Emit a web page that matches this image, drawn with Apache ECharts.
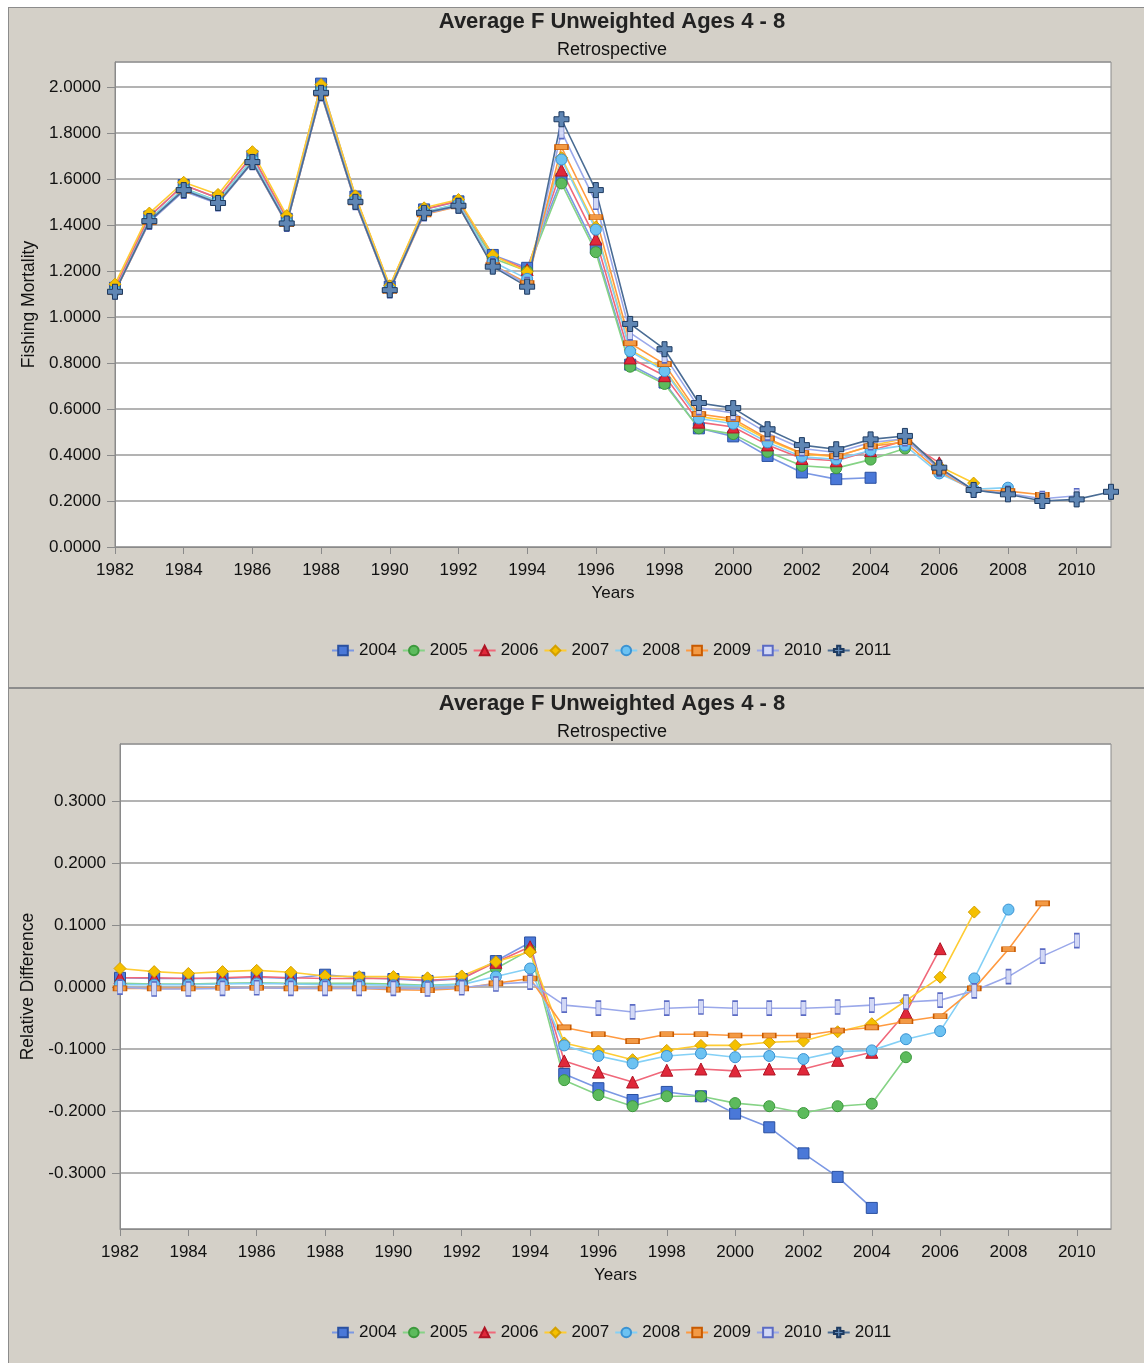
<!DOCTYPE html>
<html>
<head>
<meta charset="utf-8">
<script src="https://cdn.jsdelivr.net/npm/echarts@6/dist/echarts.min.js"></script>
<style>
html,body{margin:0;padding:0;background:#ffffff;}
#wrap{position:absolute;left:8px;top:7px;width:1136px;height:1356px;border-left:1px solid #8c8c8c;border-top:1px solid #8c8c8c;background:#d4d0c8;}
#chart{position:absolute;left:0;top:0;width:1136px;height:1356px;}
</style>
</head>
<body>
<div id="wrap"><div id="chart"></div></div>
<script>
// ---------- DATA ----------
const years = [1982,1983,1984,1985,1986,1987,1988,1989,1990,1991,1992,1993,1994,1995,1996,1997,1998,1999,2000,2001,2002,2003,2004,2005,2006,2007,2008,2009,2010,2011];
const seriesNames = ['2004','2005','2006','2007','2008','2009','2010','2011'];
const xTicks = [1982,1984,1986,1988,1990,1992,1994,1996,1998,2000,2002,2004,2006,2008,2010];

// Fishing mortality (top chart), each retrospective run starts in 1982
const f2004 = [1.127,1.437,1.574,1.517,1.701,1.427,2.015,1.524,1.132,1.468,1.503,1.270,1.214,1.600,1.299,0.793,0.715,0.516,0.481,0.396,0.324,0.295,0.301];
const f2005 = [1.117,1.424,1.560,1.505,1.686,1.415,1.987,1.510,1.123,1.457,1.491,1.256,1.200,1.581,1.282,0.784,0.709,0.516,0.491,0.414,0.353,0.343,0.380,0.428];
const f2006 = [1.127,1.438,1.574,1.518,1.702,1.428,2.003,1.522,1.133,1.469,1.505,1.268,1.206,1.639,1.339,0.822,0.745,0.543,0.522,0.444,0.385,0.375,0.419,0.463,0.366];
const f2007 = [1.143,1.452,1.586,1.533,1.719,1.441,2.011,1.527,1.136,1.475,1.511,1.269,1.197,1.693,1.392,0.857,0.772,0.567,0.547,0.466,0.404,0.394,0.440,0.472,0.351,0.278];
const f2008 = [1.114,1.423,1.558,1.503,1.684,1.414,1.983,1.507,1.120,1.456,1.490,1.240,1.166,1.685,1.380,0.851,0.765,0.559,0.536,0.455,0.392,0.381,0.420,0.442,0.320,0.251,0.258];
const f2009 = [1.108,1.414,1.549,1.495,1.672,1.404,1.971,1.498,1.113,1.446,1.481,1.226,1.148,1.739,1.434,0.886,0.795,0.578,0.557,0.472,0.408,0.395,0.438,0.456,0.329,0.247,0.243,0.227];
const f2010 = [1.110,1.413,1.547,1.493,1.672,1.404,1.971,1.498,1.115,1.449,1.483,1.225,1.141,1.806,1.499,0.931,0.831,0.606,0.583,0.495,0.428,0.411,0.454,0.471,0.338,0.247,0.233,0.210,0.223];
const f2011 = [1.110,1.417,1.552,1.496,1.674,1.407,1.975,1.501,1.117,1.453,1.484,1.219,1.132,1.860,1.552,0.970,0.860,0.626,0.604,0.512,0.443,0.425,0.468,0.483,0.345,0.248,0.229,0.200,0.207,0.240];

// Relative difference (bottom chart)
const rd2004 = [0.015,0.014,0.014,0.014,0.016,0.014,0.020,0.015,0.013,0.010,0.013,0.042,0.072,-0.140,-0.163,-0.182,-0.169,-0.176,-0.204,-0.226,-0.268,-0.306,-0.356];
const rd2005 = [0.006,0.005,0.005,0.006,0.007,0.006,0.006,0.006,0.005,0.003,0.005,0.030,0.060,-0.150,-0.174,-0.192,-0.176,-0.176,-0.187,-0.192,-0.203,-0.192,-0.188,-0.113];
const rd2006 = [0.015,0.015,0.014,0.015,0.017,0.015,0.014,0.014,0.014,0.011,0.014,0.040,0.065,-0.119,-0.137,-0.153,-0.134,-0.132,-0.135,-0.132,-0.132,-0.118,-0.105,-0.041,0.062];
const rd2007 = [0.030,0.025,0.022,0.025,0.027,0.024,0.018,0.017,0.017,0.015,0.018,0.041,0.057,-0.090,-0.103,-0.117,-0.102,-0.094,-0.094,-0.089,-0.087,-0.072,-0.059,-0.022,0.016,0.121];
const rd2008 = [0.004,0.004,0.004,0.005,0.006,0.005,0.004,0.004,0.003,0.002,0.004,0.017,0.030,-0.094,-0.111,-0.123,-0.111,-0.107,-0.113,-0.111,-0.116,-0.104,-0.102,-0.084,-0.071,0.014,0.125];
const rd2009 = [-0.002,-0.002,-0.002,-0.001,-0.001,-0.002,-0.002,-0.002,-0.004,-0.005,-0.002,0.006,0.014,-0.065,-0.076,-0.087,-0.076,-0.076,-0.078,-0.078,-0.078,-0.070,-0.065,-0.055,-0.047,-0.002,0.061,0.135];
const rd2010 = [0.000,-0.003,-0.003,-0.002,-0.001,-0.002,-0.002,-0.002,-0.002,-0.003,-0.001,0.005,0.008,-0.029,-0.034,-0.040,-0.034,-0.032,-0.034,-0.034,-0.034,-0.032,-0.029,-0.024,-0.021,-0.006,0.017,0.050,0.075];
const rd2011 = [];

// ---------- STYLE ----------
const FONT = '"Liberation Sans", Arial, sans-serif';
const plusPath = 'path://M4,0H8V4H12V8H8V12H4V8H0V4H4Z';
const styles = {
  '2004': {symbol:'rect', size:11, fill:'#4a78d8', border:'#2a50a0', line:'#7b98e4'},
  '2005': {symbol:'circle', size:11, fill:'#5dbb5d', border:'#3c993c', line:'#86d386'},
  '2006': {symbol:'triangle', size:12, fill:'#e0283a', border:'#b01424', line:'#f0687a'},
  '2007': {symbol:'diamond', size:12, fill:'#f5c000', border:'#d4a000', line:'#ffcc33'},
  '2008': {symbol:'circle', size:11, fill:'#6cc2f2', border:'#3a92d2', line:'#84d0f6'},
  '2009': {symbol:'rect', size:[13,5], fill:'#f39a45', border:'#c85a00', line:'#ff9a40'},
  '2010': {symbol:'rect', size:[5,14], fill:'#d2d8f6', border:'#5a6ac4', line:'#9aa8ea'},
  '2011': {symbol:plusPath, size:15, fill:'#5f86b4', border:'#1d3a60', line:'#4a6c94'}
};

function pairs(vals){ return vals.map((v,i)=>[years[i], v]); }

function makeSeries(name, vals, xi, yi){
  const s = styles[name];
  return {
    name: name, type:'line', xAxisIndex:xi, yAxisIndex:yi,
    data: pairs(vals),
    symbol: s.symbol, symbolSize: s.size,
    itemStyle: {color:s.fill, borderColor:s.border, borderWidth:1},
    lineStyle: {color:s.line, width:1.6},
    emphasis:{disabled:true},
    z: 3
  };
}

const topVals = [f2004,f2005,f2006,f2007,f2008,f2009,f2010,f2011];
const botVals = [rd2004,rd2005,rd2006,rd2007,rd2008,rd2009,rd2010,rd2011];

const series = [];
seriesNames.forEach((n,i)=>series.push(makeSeries(n, topVals[i], 0, 0)));
seriesNames.forEach((n,i)=>series.push(makeSeries(n, botVals[i], 1, 1)));

const labelStyle = {color:'#111', fontFamily:FONT, fontSize:17};

function xAxis(gi){
  return {
    type:'value', gridIndex:gi, min:1982, max:2011, interval:2,
    name:'Years', nameLocation:'middle', nameGap:38,
    nameTextStyle:{color:'#111', fontFamily:FONT, fontSize:17},
    axisLine:{show:true, onZero:false, lineStyle:{color:'#8a8a8a', width:1}},
    axisTick:{show:true, length:7, lineStyle:{color:'#8a8a8a'}},
    axisLabel:Object.assign({margin:15, showMaxLabel:false, formatter:(v)=> xTicks.indexOf(v)>=0 ? String(v) : ''}, labelStyle),
    splitLine:{show:false}
  };
}

function yAxis(gi, min, max, name, gap){
  return {
    type:'value', gridIndex:gi, min:min, max:max, minInterval: gi===0?0.2:0.1, maxInterval: gi===0?0.2:0.1,
    splitNumber: gi===0?10:8,
    name:name, nameLocation:'middle', nameGap:gap, nameRotate:90,
    nameTextStyle:{color:'#111', fontFamily:FONT, fontSize:17.5},
    axisLine:{show:true, onZero:false, lineStyle:{color:'#8a8a8a', width:1}},
    axisTick:{show:true, length:8, lineStyle:{color:'#8a8a8a'}},
    axisLabel:Object.assign({margin:14, showMinLabel: gi===0, showMaxLabel:false, formatter:(v)=> v.toFixed(4)}, labelStyle),
    splitLine:{show:true, lineStyle:{color:'#9a9a9a', width:1.5}}
  };
}

const titleText = 'Average F Unweighted Ages 4 - 8';
const chart = echarts.init(document.getElementById('chart'), null, {renderer:'canvas'});
chart.setOption({
  animation:false,
  backgroundColor:'#d4d0c8',
  textStyle:{fontFamily:FONT},
  title:[
    {text:titleText, subtext:'Retrospective', left:598, textAlign:'center', top:-2, itemGap:8,
     textStyle:{fontFamily:FONT, fontSize:22, fontWeight:'bold', color:'#222'},
     subtextStyle:{fontFamily:FONT, fontSize:18, color:'#111'}},
    {text:titleText, subtext:'Retrospective', left:598, textAlign:'center', top:680, itemGap:8,
     textStyle:{fontFamily:FONT, fontSize:22, fontWeight:'bold', color:'#222'},
     subtextStyle:{fontFamily:FONT, fontSize:18, color:'#111'}}
  ],
  legend:[
    {data:seriesNames, top:629, left:317, itemWidth:22, itemHeight:12, itemGap:5,
     textStyle:{fontFamily:FONT, fontSize:17, color:'#111'}},
    {data:seriesNames, top:1311, left:317, itemWidth:22, itemHeight:12, itemGap:5,
     textStyle:{fontFamily:FONT, fontSize:17, color:'#111'}}
  ],
  grid:[
    {left:106, top:54, width:996, height:485, show:true, backgroundColor:'#ffffff', borderColor:'#8a8a8a', borderWidth:1, containLabel:false},
    {left:111, top:736, width:991, height:485, show:true, backgroundColor:'#ffffff', borderColor:'#8a8a8a', borderWidth:1, containLabel:false}
  ],
  xAxis:[xAxis(0), xAxis(1)],
  yAxis:[yAxis(0, 0, 2.109, 'Fishing Mortality', 76), yAxis(1, -0.390, 0.392, 'Relative Difference', 81)],
  graphic:[
    {type:'rect', left:0, top:679, shape:{width:1136, height:2}, style:{fill:'#8c8c8c'}, silent:true}
  ],
  series: series
});
</script>
</body>
</html>
